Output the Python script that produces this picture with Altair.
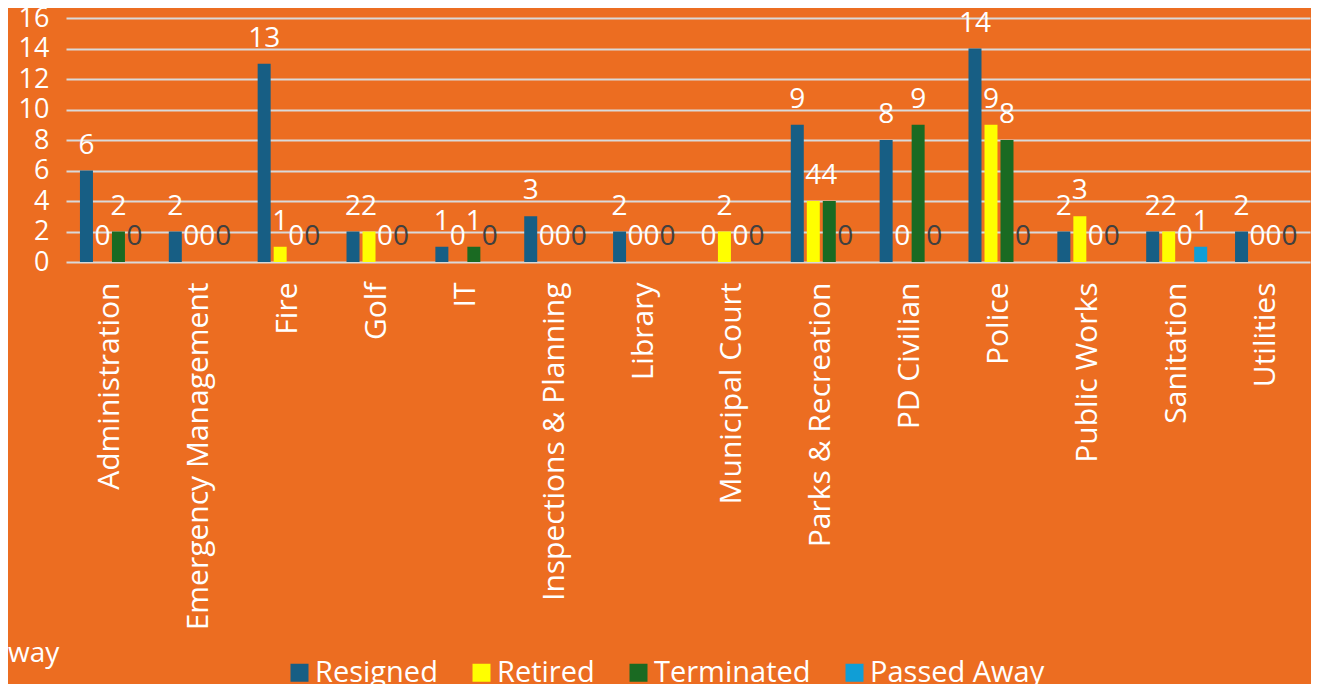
import altair as alt
import pandas as pd

departments = ["Administration", "Emergency Management", "Fire", "Golf", "IT",
               "Inspections & Planning", "Library", "Municipal Court",
               "Parks & Recreation", "PD Civilian", "Police", "Public Works",
               "Sanitation", "Utilities"]
series = ["Resigned", "Retired", "Terminated", "Passed Away"]
resigned = [6, 2, 13, 2, 1, 3, 2, 0, 9, 8, 14, 2, 2, 2]
retired = [0, 0, 1, 2, 0, 0, 0, 2, 4, 0, 9, 3, 2, 0]
terminated = [2, 0, 0, 0, 1, 0, 0, 0, 4, 9, 8, 0, 0, 0]
passed_away = [0, 0, 0, 0, 0, 0, 0, 0, 0, 0, 0, 0, 1, 0]
colors = ["#175E84", "#FFFF00", "#1A6A22", "#109ED6"]
y_ticks = [0, 2, 4, 6, 8, 10, 12, 14, 16]

rows = []
for s, vals in zip(series, [resigned, retired, terminated, passed_away]):
    for d, v in zip(departments, vals):
        rows.append({"Department": d, "Series": s, "Count": v})
df = pd.DataFrame(rows)

FONT = "Open Sans"
BG = "#EC6D21"

x_enc = alt.X("Department:N", sort=departments,
              scale=alt.Scale(paddingInner=0.3135, paddingOuter=0.157),
              axis=alt.Axis(title=None, labelAngle=270, labelPadding=20,
                            labelLimit=500, domain=False, ticks=False, tickSize=0,
                            labelFont=FONT, labelFontSize=30, labelColor="white",
                            labelOverlap=False))
xoff = alt.XOffset("Series:N", sort=series,
                   scale=alt.Scale(paddingInner=0.1875, paddingOuter=0))
y_enc = alt.Y("Count:Q", scale=alt.Scale(domain=[0, 16], nice=False),
              axis=alt.Axis(title=None, values=y_ticks, grid=True,
                            gridColor="#D9D9D9", gridWidth=2, domain=False,
                            ticks=False, tickSize=0, labelPadding=17,
                            labelOverlap=False, labelFlush=False,
                            labelFont=FONT, labelFontSize=27, labelColor="white"))

bars = alt.Chart(df).mark_bar().encode(
    x=x_enc, xOffset=xoff, y=y_enc,
    color=alt.Color("Series:N", sort=series,
                    scale=alt.Scale(domain=series, range=colors),
                    legend=alt.Legend(title=None, orient="none", direction="horizontal",
                                      legendX=219, legendY=640,
                                      symbolType="square", symbolSize=324,
                                      symbolStrokeWidth=0, labelFont=FONT,
                                      labelFontSize=29, labelColor="white",
                                      labelOffset=1, columnPadding=29,
                                      labelLimit=400, padding=0)),
)

labels = alt.Chart(df).mark_text(font=FONT, fontSize=28, baseline="alphabetic",
                                 align="center", dy=-17).encode(
    x=x_enc, xOffset=xoff, y=y_enc,
    text=alt.Text("Count:Q"),
    color=alt.condition("datum.Series == 'Passed Away' && datum.Count == 0",
                        alt.value("#404040"), alt.value("white")),
)

stray = alt.Chart(pd.DataFrame({"t": ["way"]})).mark_text(
    font=FONT, fontSize=28, align="left", baseline="alphabetic", color="white"
).encode(x=alt.value(-58), y=alt.value(644), text="t:N")

chart = alt.layer(bars, labels, stray).properties(
    width=1244, height=244,
    autosize=alt.AutoSizeParams(type="none"),
    padding={"left": 58, "top": 10, "right": 1, "bottom": 422},
    background=BG,
).configure_view(stroke=None).configure_axis(labelOverlap=False)

chart.save("out.html", embed_options={"renderer": "svg", "actions": False})
